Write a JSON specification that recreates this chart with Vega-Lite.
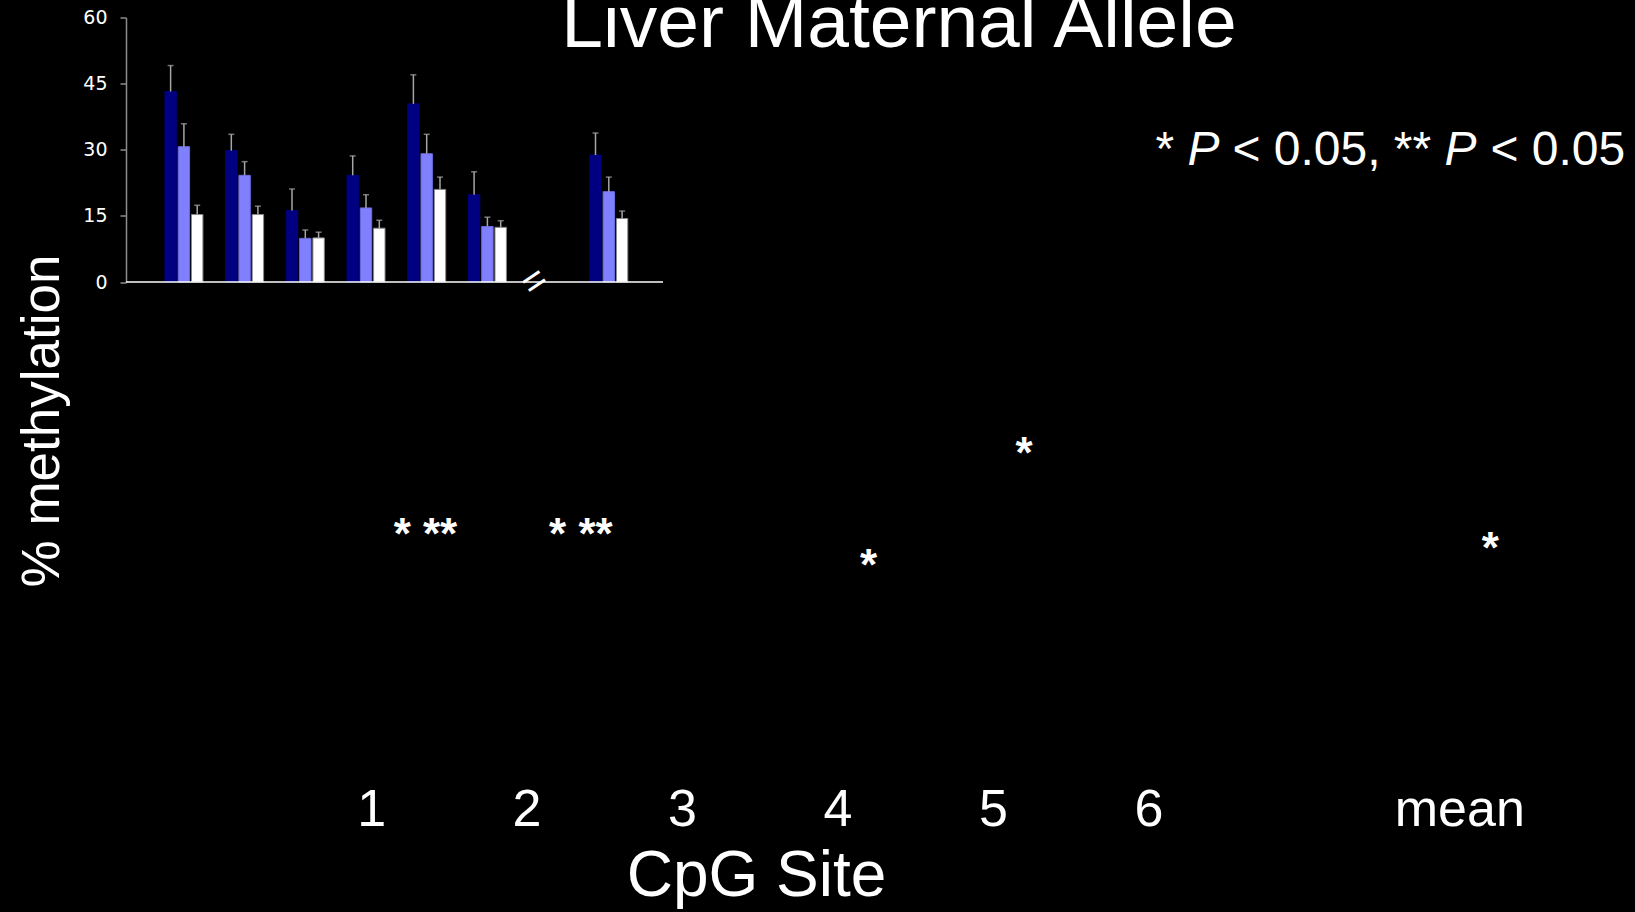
{
  "$schema": "https://vega.github.io/schema/vega-lite/v6.json",
  "width": 537,
  "height": 264.5,
  "autosize": {"type": "none"},
  "padding": {"left": 126, "top": 17.5, "right": 972, "bottom": 630},
  "background": "black",
  "config": {
    "view": {"stroke": null},
    "font": "Liberation Sans",
    "axis": {"grid": false}
  },
  "datasets": {
    "bars": [
      {"site": "1", "group": "g1", "pct": 43.2, "upper": 49.1},
      {"site": "1", "group": "g2", "pct": 30.7, "upper": 35.9},
      {"site": "1", "group": "g3", "pct": 15.3, "upper": 17.4},
      {"site": "2", "group": "g1", "pct": 29.8, "upper": 33.5},
      {"site": "2", "group": "g2", "pct": 24.2, "upper": 27.3},
      {"site": "2", "group": "g3", "pct": 15.3, "upper": 17.2},
      {"site": "3", "group": "g1", "pct": 16.2, "upper": 21.1},
      {"site": "3", "group": "g2", "pct": 9.9, "upper": 11.8},
      {"site": "3", "group": "g3", "pct": 10.0, "upper": 11.3},
      {"site": "4", "group": "g1", "pct": 24.2, "upper": 28.6},
      {"site": "4", "group": "g2", "pct": 16.8, "upper": 19.8},
      {"site": "4", "group": "g3", "pct": 12.2, "upper": 14.0},
      {"site": "5", "group": "g1", "pct": 40.4, "upper": 47.0},
      {"site": "5", "group": "g2", "pct": 29.1, "upper": 33.5},
      {"site": "5", "group": "g3", "pct": 21.0, "upper": 23.8},
      {"site": "6", "group": "g1", "pct": 19.8, "upper": 25.0},
      {"site": "6", "group": "g2", "pct": 12.6, "upper": 14.7},
      {"site": "6", "group": "g3", "pct": 12.4, "upper": 13.9},
      {"site": "mean", "group": "g1", "pct": 28.8, "upper": 33.8},
      {"site": "mean", "group": "g2", "pct": 20.5, "upper": 23.8},
      {"site": "mean", "group": "g3", "pct": 14.4, "upper": 16.1}
    ],
    "stars": [
      {"site": "1", "label": "* **", "y": 23.15},
      {"site": "2", "label": "* **", "y": 23.15},
      {"site": "4", "label": "*", "y": 20.05},
      {"site": "5", "label": "*", "y": 31.25},
      {"site": "mean", "label": "*", "y": 21.75}
    ],
    "one": [{}]
  },
  "layer": [
    {
      "layer": [
        {
          "data": {"name": "bars"},
          "mark": {"type": "bar", "strokeWidth": 1},
          "encoding": {
            "x": {
              "field": "site", "type": "nominal",
              "scale": {"domain": ["1", "2", "3", "4", "5", "6", "gap", "mean"], "paddingInner": 0.374, "paddingOuter": 0.6105, "align": 0.525},
              "axis": null
            },
            "xOffset": {
              "field": "group", "type": "nominal",
              "scale": {"domain": ["g1", "g2", "g3"], "paddingInner": 0.143, "paddingOuter": 0}
            },
            "y": {
              "field": "pct", "type": "quantitative",
              "scale": {"domain": [0, 60], "nice": false, "zero": true},
              "axis": {
                "orient": "left",
                "title": null,
                "values": [0, 15, 30, 45, 60],
                "domainColor": "#8c8c8c",
                "domainWidth": 1.5,
                "tickColor": "#8c8c8c",
                "tickWidth": 1.5,
                "tickSize": 6,
                "labelColor": "white",
                "labelFont": "DejaVu Sans",
                "labelFontSize": 19,
                "labelPadding": 13,
                "grid": false
              }
            },
            "fill": {
              "field": "group", "type": "nominal",
              "scale": {"domain": ["g1", "g2", "g3"], "range": ["#000080", "#8080ff", "#ffffff"]},
              "legend": null
            },
            "stroke": {
              "field": "group", "type": "nominal",
              "scale": {"domain": ["g1", "g2", "g3"], "range": ["#000080", "#6a6ae0", "#8a8a8a"]},
              "legend": null
            }
          }
        },
        {
          "data": {"name": "bars"},
          "mark": {"type": "rule", "color": "#a6a6a6", "strokeWidth": 1.5},
          "encoding": {
            "x": {"field": "site", "type": "nominal"},
            "xOffset": {"field": "group", "type": "nominal"},
            "y": {"field": "pct", "type": "quantitative", "title": null},
            "y2": {"field": "upper"}
          }
        },
        {
          "data": {"name": "bars"},
          "mark": {"type": "tick", "color": "#a6a6a6", "size": 6, "thickness": 1.5},
          "encoding": {
            "x": {"field": "site", "type": "nominal"},
            "xOffset": {"field": "group", "type": "nominal"},
            "y": {"field": "upper", "type": "quantitative", "title": null}
          }
        },
        {
          "data": {"name": "one"},
          "mark": {"type": "rule", "color": "white", "strokeWidth": 1.5},
          "encoding": {
            "y": {"datum": 0}
          }
        },
        {
          "data": {"name": "one"},
          "mark": {"type": "text", "text": "=", "font": "Liberation Sans", "fontSize": 40, "color": "white", "angle": -34, "align": "center", "baseline": "middle"},
          "encoding": {
            "x": {"datum": "gap"},
            "xOffset": {"datum": "g1"},
            "y": {"datum": 0}
          }
        }
      ]
    },
    {
      "layer": [
        {
          "data": {"name": "stars"},
          "mark": {"type": "text", "font": "Liberation Sans", "fontSize": 44, "fontWeight": "bold", "color": "white", "align": "left", "baseline": "alphabetic", "dx": -8.5},
          "encoding": {
            "x": {
              "field": "site", "type": "nominal",
              "scale": {"domain": ["1", "2", "3", "4", "5", "6", "gap", "mean"], "range": [198.4, 1442], "paddingInner": 0, "paddingOuter": 0},
              "axis": {
                "orient": "bottom",
                "title": "CpG Site",
                "titleFont": "Liberation Sans",
                "titleFontSize": 64,
                "titleFontWeight": "normal",
                "titleColor": "white",
                "titleX": 630,
                "titleY": 70,
                "titleAlign": "center",
                "titleBaseline": "alphabetic",
                "labelExpr": "datum.label == 'gap' ? '' : datum.label",
                "labelFont": "Liberation Sans",
                "labelFontSize": 52,
                "labelColor": "white",
                "labelAngle": 0,
                "labelBaseline": "alphabetic",
                "labelPadding": 0,
                "labelOffset": -31,
                "offset": 543,
                "domain": false,
                "ticks": false,
                "tickSize": 0,
                "grid": false
              }
            },
            "y": {
              "field": "y", "type": "quantitative",
              "scale": {"domain": [0, 60], "range": [762.5, 162.5], "nice": false, "zero": false},
              "axis": {
                "orient": "left",
                "title": "% methylation",
                "titleFont": "Liberation Sans",
                "titleFontSize": 53,
                "titleFontWeight": "normal",
                "titleColor": "white",
                "titleAngle": 270,
                "titleX": -68,
                "titleY": 403,
                "titleAlign": "center",
                "titleBaseline": "alphabetic",
                "labels": false,
                "ticks": false,
                "domain": false,
                "grid": false
              }
            },
            "text": {"field": "label", "type": "nominal"}
          }
        },
        {
          "data": {"name": "one"},
          "mark": {"type": "text", "text": "Liver Maternal Allele", "font": "Liberation Sans", "fontSize": 75, "color": "white", "align": "center", "baseline": "alphabetic", "dx": 30.5},
          "encoding": {"x": {"datum": "4"}, "y": {"datum": 73.3}}
        },
        {
          "data": {"name": "one"},
          "mark": {"type": "text", "text": "*", "font": "Liberation Sans", "fontSize": 48, "color": "white", "align": "left", "baseline": "alphabetic", "dx": -24},
          "encoding": {"x": {"datum": "6"}, "y": {"datum": 61.5}}
        },
        {
          "data": {"name": "one"},
          "mark": {"type": "text", "text": "P", "font": "Liberation Sans", "fontSize": 48, "fontStyle": "italic", "color": "white", "align": "left", "baseline": "alphabetic", "dx": 8},
          "encoding": {"x": {"datum": "6"}, "y": {"datum": 61.5}}
        },
        {
          "data": {"name": "one"},
          "mark": {"type": "text", "text": "< 0.05, **", "font": "Liberation Sans", "fontSize": 48, "color": "white", "align": "left", "baseline": "alphabetic", "dx": 53},
          "encoding": {"x": {"datum": "6"}, "y": {"datum": 61.5}}
        },
        {
          "data": {"name": "one"},
          "mark": {"type": "text", "text": "P", "font": "Liberation Sans", "fontSize": 48, "fontStyle": "italic", "color": "white", "align": "left", "baseline": "alphabetic", "dx": 265},
          "encoding": {"x": {"datum": "6"}, "y": {"datum": 61.5}}
        },
        {
          "data": {"name": "one"},
          "mark": {"type": "text", "text": "< 0.05", "font": "Liberation Sans", "fontSize": 48, "color": "white", "align": "left", "baseline": "alphabetic", "dx": 311},
          "encoding": {"x": {"datum": "6"}, "y": {"datum": 61.5}}
        }
      ]
    }
  ],
  "resolve": {
    "scale": {"x": "independent", "y": "independent", "xOffset": "independent"},
    "axis": {"x": "independent", "y": "independent"}
  }
}
